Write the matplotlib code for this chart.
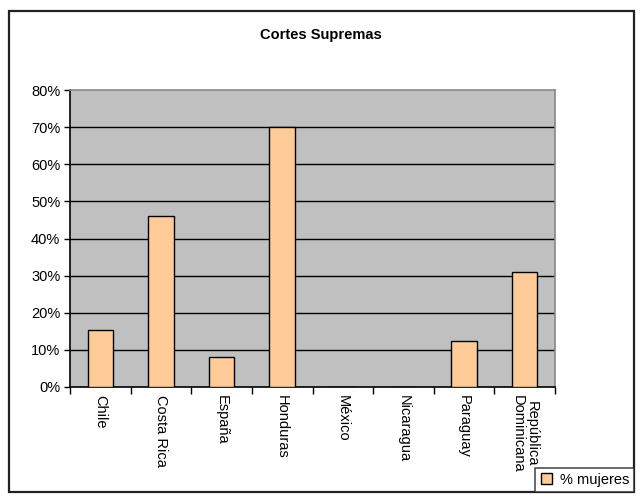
import matplotlib
matplotlib.use("Agg")
import matplotlib.pyplot as plt
from matplotlib.patches import Rectangle
import numpy as np

paises = ["Chile", "Costa Rica", "España", "Honduras", "México",
          "Nicaragua", "Paraguay", "República\nDominicana"]
mujeres = [15.4, 46.0, 8.1, 70.0, 0.0, 0.0, 12.4, 31.0]
yticks = [0, 10, 20, 30, 40, 50, 60, 70, 80]

plt.rcParams['font.family'] = ['Liberation Sans', 'DejaVu Sans']

fig = plt.figure(figsize=(6.41, 4.97), dpi=100)
ax = fig.add_axes([70/641, 1-387/497, 485/641, 297/497])

# outer chart frame
fig.patches.append(Rectangle((9/641, 5/497), 625/641, 481/497,
                             transform=fig.transFigure, fill=False,
                             edgecolor='#222222', linewidth=1.6, zorder=0))

x = np.arange(len(paises))
ax.set_facecolor('#c0c0c0')
ax.bar(x, mujeres, width=0.42, color='#ffcc99', edgecolor='black',
       linewidth=1.0, zorder=3, label='% mujeres')

ax.set_ylim(0, 80)
ax.set_xlim(-0.5, len(paises) - 0.5)
ax.set_yticks(yticks)
ax.set_yticklabels([f"{v}%" for v in yticks], fontsize=10.5)
for v in yticks[1:-1]:
    ax.axhline(v, color='black', linewidth=1.0, zorder=2)

ax.set_xticks(np.arange(len(paises) + 1) - 0.5)
ax.set_xticklabels([])
ax.set_xticks(x, minor=True)
ax.set_xticklabels(paises, minor=True, rotation=270, fontsize=10.5,
                   va='top', ha='center', linespacing=1.0)
ax.tick_params(axis='x', which='major', direction='out', length=5, width=1)
ax.tick_params(axis='x', which='minor', length=0, pad=6)
ax.tick_params(axis='y', direction='out', length=4, width=1, pad=3)

ax.spines['left'].set_color('black')
ax.spines['bottom'].set_color('black')
ax.spines['top'].set_color('#888888')
ax.spines['right'].set_color('#888888')
for s in ax.spines.values():
    s.set_linewidth(1.2)

fig.text(0.5, 1-35/497, "Cortes Supremas", ha='center', va='center',
         fontsize=10.5, fontweight='bold')

leg = fig.legend(loc='lower right', bbox_to_anchor=(634/641, 5/497),
                 fontsize=10.5, frameon=True, fancybox=False,
                 edgecolor='#222222', handlelength=0.8, handleheight=0.8,
                 handletextpad=0.5, borderpad=0.35, borderaxespad=0)
leg.get_frame().set_linewidth(1.2)

fig.savefig("out.png", dpi=100)
